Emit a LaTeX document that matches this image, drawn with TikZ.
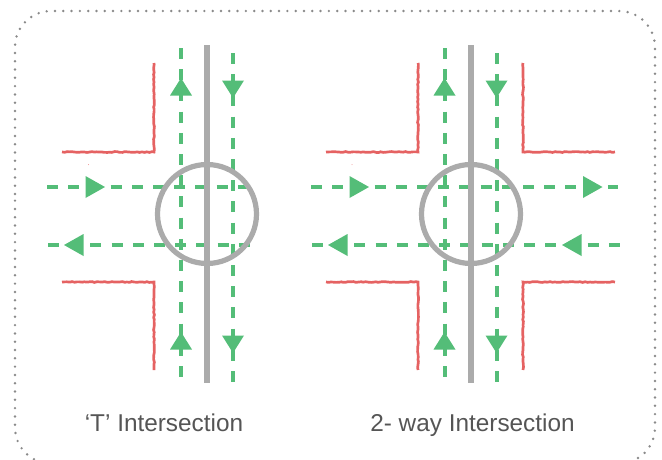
\documentclass[tikz,border=0pt]{standalone}
\usepackage{fontspec}
\setmainfont{Liberation Sans}
\usetikzlibrary{decorations.pathmorphing}
\definecolor{lanegreen}{HTML}{54BD78}
\definecolor{kerbred}{HTML}{E56262}
\definecolor{roadgray}{HTML}{ABABAB}
\definecolor{dotgray}{HTML}{8A8A8A}
\definecolor{labelgray}{HTML}{555555}
\tikzset{
  lane/.style={draw=lanegreen,line width=4pt,dash pattern=on 11pt off 10.2pt},
  arrowhead/.style={fill=lanegreen,draw=none},
  kerb/.style={draw=kerbred,line width=2.7pt,decorate,decoration={random steps,segment length=2.5pt,amplitude=.45pt}},
  road/.style={draw=roadgray,line width=5.2pt},
  frame/.style={draw=dotgray,line width=2.7pt,line cap=round,dash pattern=on 0pt off 8.3pt,rounded corners=36pt},
  caption/.style={text=labelgray,font=\fontsize{24.35}{28}\selectfont,anchor=base,inner sep=0pt}
}
\newcommand{\uphead}[2]{\fill[arrowhead] (#1-11,#2+17.5) -- (#1,#2) -- (#1+11,#2+17.5) -- cycle;}
\newcommand{\downhead}[2]{\fill[arrowhead] (#1-11,#2-17.5) -- (#1,#2) -- (#1+11,#2-17.5) -- cycle;}
\newcommand{\righthead}[2]{\fill[arrowhead] (#1-19.5,#2-11) -- (#1,#2) -- (#1-19.5,#2+11) -- cycle;}
\newcommand{\lefthead}[2]{\fill[arrowhead] (#1+19.5,#2-11) -- (#1,#2) -- (#1+19.5,#2+11) -- cycle;}
\begin{document}
\begin{tikzpicture}[x=1pt,y=-1pt]
\useasboundingbox[clip] (0,0) rectangle (662,459);
\draw[frame] (15,230) -- (15,11) -- (655,11) -- (655,463.5) -- (15,463.5) -- cycle;
% left panel
\draw[kerb] (62,152) -- (154,152) -- (154,63);
\draw[kerb] (62,282) -- (154,282) -- (154,370);
\fill[kerbred!70] (88.5,164.5) circle[radius=.5];
\draw[lane] (181,48) -- (181,377);
\draw[lane] (233,53) -- (233,383);
\draw[lane] (47,187) -- (249,187);
\draw[lane] (48,245) -- (250,245);
\draw[road] (207,45) -- (207,383);
\draw[road] (207,214) circle[radius=49.5];
\uphead{181}{78}\uphead{181}{332}
\downhead{233}{98}\downhead{233}{353}
\righthead{105}{187}\lefthead{64}{245}
\node[caption] (tlabel) at (164,431) {‘T’ Intersection};
% right panel
\draw[kerb] (326,152) -- (418,152) -- (418,63);
\draw[kerb] (326,282) -- (418,282) -- (418,370);
\draw[kerb] (615,152) -- (523,152) -- (523,63);
\draw[kerb] (615,282) -- (523,282) -- (523,370);
\fill[kerbred!70] (352,164.5) circle[radius=.5];
\draw[lane] (444.5,48) -- (444.5,377);
\draw[lane] (496.5,53) -- (496.5,383);
\draw[lane] (311,187) -- (618,187);
\draw[lane] (312,245) -- (620,245);
\draw[road] (471,45) -- (471,383);
\draw[road] (471,214) circle[radius=49.5];
\uphead{444.5}{78}\uphead{444.5}{332}
\downhead{496.5}{98}\downhead{496.5}{353}
\righthead{369}{187}\righthead{602.5}{187}
\lefthead{328}{245}\lefthead{562}{245}
\node[caption] (wlabel) at (472.5,431) {2- way Intersection};
\end{tikzpicture}
\end{document}
